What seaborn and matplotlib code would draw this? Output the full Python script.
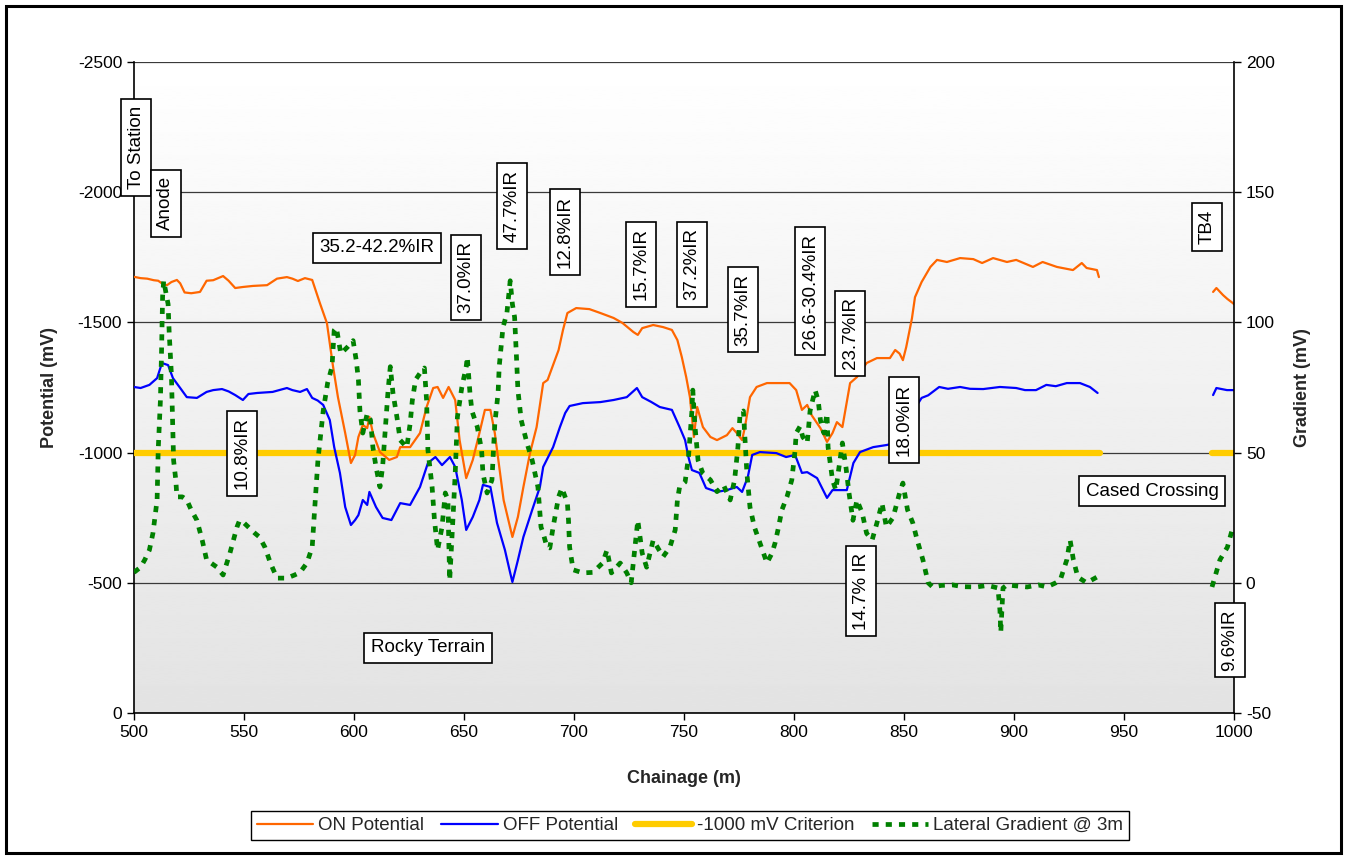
import numpy as np
import pandas as pd
import matplotlib
matplotlib.use("Agg")
import matplotlib.pyplot as plt
from matplotlib.patches import Rectangle
import seaborn as sns

sns.set_style("white")
plt.rcParams["font.family"] = ["Liberation Sans", "DejaVu Sans"]
plt.rcParams["axes.unicode_minus"] = False

# ---------------- survey data ----------------
# ON potential (mV), survey run 1 and the short run after the cased crossing
ON_CHAINAGE_1 = [500, 503, 506, 509, 511, 513, 515, 517, 519.5, 521, 523, 526, 530, 533, 536, 540.5, 543, 546,
                 549.5, 554, 560.5, 565, 569.5, 572, 574.5, 577.7, 581, 584.5, 587.7, 590.5, 592.7, 596, 598.6,
                 600.5, 602, 604, 606, 607, 608.6, 611.8, 616, 619.5, 621, 625.5, 630, 633, 636, 638, 640.5, 643,
                 646, 648, 651, 654, 657, 659.5, 662, 664, 666, 668, 672, 674.5, 677, 680, 683, 686, 688, 693, 695,
                 697, 701, 707, 712, 718, 722, 727, 729, 731, 736, 740.5, 744.5, 747, 749, 751, 752.7, 753.6, 754.5,
                 756, 758.6, 762, 765, 769.5, 772, 774, 776.4, 777.7, 780, 783, 787.7, 793.6, 798, 801, 803.6, 806,
                 808, 812, 815, 817.5, 819.5, 822, 825.5, 828.6, 833, 837.7, 843.6, 846, 848, 849.5, 851, 853.6, 855,
                 858, 862, 865, 869.5, 875.5, 881.5, 885.5, 890.5, 896.8, 901, 908.6, 913, 919.5, 926.8, 930.8, 933,
                 937.7, 938.6]
ON_POTENTIAL_1 = [-1675, -1670, -1668, -1662, -1660, -1648, -1643, -1655, -1663, -1650, -1615, -1612, -1617, -1660,
                  -1662, -1678, -1660, -1632, -1636, -1640, -1643, -1668, -1674, -1668, -1659, -1670, -1663, -1574,
                  -1497, -1329, -1213, -1075, -960, -991, -1060, -1106, -1094, -1137, -1075, -1002, -972, -983, -1021,
                  -1021, -1075, -1175, -1248, -1252, -1210, -1252, -1202, -1048, -902, -972, -1075, -1164, -1164,
                  -1075, -945, -818, -676, -753, -868, -998, -1098, -1267, -1279, -1394, -1471, -1536, -1555, -1551,
                  -1536, -1517, -1498, -1463, -1452, -1478, -1490, -1482, -1471, -1432, -1367, -1290, -1213, -1137,
                  -1060, -1175, -1098, -1060, -1048, -1067, -1094, -1075, -1048, -1098, -1213, -1252, -1267, -1267,
                  -1267, -1240, -1164, -1183, -1144, -1094, -1041, -1075, -1117, -1098, -1267, -1290, -1344, -1363,
                  -1363, -1394, -1380, -1355, -1405, -1515, -1597, -1655, -1713, -1740, -1732, -1747, -1743, -1728,
                  -1747, -1732, -1740, -1713, -1732, -1713, -1701, -1728, -1709, -1701, -1674]
ON_CHAINAGE_2 = [990.5, 992, 995, 997, 999.5, 1000]
ON_POTENTIAL_2 = [-1617, -1632, -1605, -1590, -1574, -1570]

# OFF potential (mV)
OFF_CHAINAGE_1 = [500, 503, 507, 510.5, 512.7, 515.5, 517.7, 521, 524, 528.6, 533, 536, 540, 543, 546, 549.5, 552,
                  556, 563, 566, 569.5, 572, 575.5, 578.6, 581, 583.5, 586, 589, 591, 593.6, 596, 598.6, 600.5, 602,
                  604, 606, 607, 610, 613, 617, 621, 625.5, 630, 633.6, 637, 640, 643.6, 646, 649, 651, 654, 657,
                  658.6, 662, 665, 668.6, 671, 672, 674.5, 677, 681, 684.5, 686, 690.5, 693.6, 696, 698, 704, 712,
                  718, 724, 728.6, 731, 735, 739, 744.5, 748, 750.5, 752, 753.6, 757, 760, 765, 769.5, 774, 776.4,
                  779, 781, 784.5, 792, 796.4, 800.5, 803.6, 806, 810.5, 815, 817.5, 821, 824, 827, 830, 836, 842,
                  848, 852, 855, 858, 861, 866, 870, 875.5, 880, 886, 893.6, 901, 905, 910, 914.7, 919, 924, 930,
                  934.5, 938]
OFF_POTENTIAL_1 = [-1252, -1248, -1260, -1286, -1344, -1336, -1286, -1248, -1213, -1210, -1233, -1240, -1244, -1235,
                   -1221, -1202, -1225, -1229, -1233, -1240, -1248, -1240, -1233, -1244, -1210, -1200, -1183, -1125,
                   -1021, -922, -791, -722, -741, -760, -818, -799, -849, -791, -749, -741, -806, -799, -868, -960,
                   -983, -952, -983, -945, -818, -703, -753, -818, -876, -868, -730, -626, -538, -503, -587, -676,
                   -780, -868, -945, -1021, -1098, -1152, -1179, -1190, -1194, -1202, -1213, -1248, -1213, -1195,
                   -1175, -1164, -1098, -1048, -983, -933, -922, -864, -849, -856, -868, -849, -906, -991, -1002,
                   -998, -983, -991, -922, -925, -902, -826, -856, -856, -856, -960, -1002, -1021, -1029, -1040,
                   -1100, -1170, -1210, -1220, -1252, -1245, -1252, -1245, -1244, -1252, -1248, -1240, -1240, -1260,
                   -1255, -1267, -1267, -1252, -1229]
OFF_CHAINAGE_2 = [990.5, 992, 996.8, 1000]
OFF_POTENTIAL_2 = [-1221, -1248, -1240, -1240]

# -1000 mV protection criterion
CRITERION_CHAINAGE_1 = [500, 939]
CRITERION_CHAINAGE_2 = [990, 1000]
CRITERION_MV = -1000

# Lateral gradient @ 3 m (mV)
GRAD_CHAINAGE_1 = [500, 503, 505, 507, 508.6, 510.5, 511, 512, 512.5, 513, 513.5, 515.5, 516, 517, 517.5, 518, 519,
                   519.5, 522, 524, 526, 528.6, 531, 533, 537.7, 540.5, 543.6, 546.8, 548, 550, 552, 555, 557, 559.5,
                   562, 565, 569.5, 573, 575.5, 578.6, 581, 582, 583.6, 586, 588, 590, 591, 592, 594, 597, 599.6, 601,
                   602, 602.7, 604, 606, 607.5, 608.6, 610, 611.8, 613, 615.5, 616.5, 617.7, 619.5, 621, 624, 625.5,
                   626.5, 628, 630, 632, 633, 633.6, 635.5, 636.5, 637.2, 638, 640, 641.5, 642.7, 643, 643.5, 645, 646,
                   647, 649, 651, 651.5, 652.7, 653.6, 656, 658, 658.6, 660.5, 662.7, 664, 665.5, 666, 667.7, 669.5,
                   671, 672, 673, 674, 674.5, 676, 678.6, 681, 683.6, 685, 686, 687.7, 689, 690.5, 693, 694.5, 697,
                   697.5, 698, 699.6, 704, 708.6, 713, 715, 717, 721, 724, 726, 727.7, 729, 731, 733, 736, 740.5,
                   743.6, 746, 747, 748, 750.5, 752, 753.6, 754, 755, 756.4, 758.6, 762, 765, 768, 771, 773, 774.5,
                   775.5, 777, 778.6, 780, 782, 784.5, 787.7, 790, 791.4, 792.7, 794.5, 796.8, 799, 800.5, 801, 802.7,
                   804, 806, 807.3, 809.6, 811, 812, 813.6, 815, 815.5, 817.5, 819, 820.5, 822, 823.6, 825, 826.8,
                   828.6, 831, 833, 835.5, 837.7, 840, 842, 845, 848, 849.5, 851.6, 854, 856, 858.6, 861, 863, 867,
                   872, 877, 883, 888, 892.7, 893.6, 894, 895, 896.8, 901, 906, 911, 915, 919, 921, 924, 925.5, 927,
                   929, 933, 937.7, 938.6]
GRAD_MV_1 = [4, 6, 9, 12.6, 19, 31.8, 51, 70, 88, 110, 116, 107, 96, 80, 63.7, 47, 39.5, 33, 33, 31.8, 28, 24, 16.4,
             8.8, 6, 3, 11.4, 21.4, 24, 23, 21.4, 19, 17.6, 13.7, 7.6, 1.8, 1.8, 3, 4, 7.6, 13.7, 26.8, 47, 66, 76.7,
             83, 97, 98, 88, 90.5, 93, 85.5, 78, 66, 57.5, 65, 62.5, 52, 44.5, 36.8, 44.5, 74, 83, 73, 63.7, 54.8, 52,
             61, 70, 78, 80.5, 82.5, 70, 51, 36.8, 25, 19, 12.6, 21.4, 34.5, 31.8, 19, 1, 25, 42, 63.7, 75, 83, 86.7,
             73, 66, 60, 51, 42, 34.5, 39.5, 61, 73, 83, 98, 103.6, 116, 107, 102, 84, 74, 62.5, 53.7, 47, 36.8, 21.4,
             19, 13.7, 13.4, 21.4, 33, 36.4, 30.6, 24, 13.7, 5, 3.8, 4, 7.6, 12.6, 3.8, 7.6, 3.8, 0, 13.7, 24, 11.4,
             6, 16.4, 10, 13.7, 20.3, 31.8, 36.8, 38.7, 48, 66, 74, 60, 47, 42, 39.5, 35, 37.5, 31.8, 39.5, 52, 65,
             66, 42, 29, 21.4, 15.3, 7.6, 11.4, 15.3, 20.3, 28, 33, 39.5, 51, 57.5, 60, 56, 53.7, 66, 74, 70, 62.5,
             57.5, 65, 52, 39.5, 35.6, 44.5, 53.7, 44.5, 34.5, 24, 31.8, 26.8, 19, 16.4, 23, 30.6, 21.4, 25, 34.5,
             38.3, 28, 23, 16.4, 8.8, 0, -1.6, -1.0, -0.8, -1.5, -1.6, -1.0, -2, -10.5, -19, -2, -0.8, -1.2, -1.6,
             -0.8, -1.6, 0, 1, 8.8, 16.4, 8.8, 2.2, 0, 2.2, 2]
GRAD_CHAINAGE_2 = [990, 993.6, 997, 999.5, 1000]
GRAD_MV_2 = [-1.6, 8.8, 13.7, 21.4, 22]

# Annotations: (text, chainage, potential, rotation)
NOTES = [
    ("To Station", 501.1, -2172, 90),
    ("Anode", 514.5, -1958, 90),
    ("35.2-42.2%IR", 610.5, -1786, 0),
    ("37.0%IR", 651.0, -1674, 90),
    ("47.7%IR", 671.8, -1947, 90),
    ("12.8%IR", 696.0, -1847, 90),
    ("15.7%IR", 730.5, -1724, 90),
    ("37.2%IR", 753.6, -1724, 90),
    ("35.7%IR", 776.8, -1548, 90),
    ("26.6-30.4%IR", 807.3, -1620, 90),
    ("23.7%IR", 825.5, -1459, 90),
    ("18.0%IR", 850.0, -1125, 90),
    ("10.8%IR", 549.0, -998, 90),
    ("14.7% IR", 830.5, -468, 90),
    ("9.6%IR", 998.0, -280, 90),
    ("TB4", 987.7, -1866, 90),
    ("Cased Crossing", 962.7, -852, 0),
    ("Rocky Terrain", 633.6, -250, 0),
]

SERIES_LABELS = ["ON Potential", "OFF Potential", "-1000 mV Criterion", "Lateral Gradient @ 3m"]
COLORS = {"on": "#FF6600", "off": "#0000FF", "crit": "#FFCC00", "grad": "#008000"}


def runs(*parts):
    """Stack (chainage, value) runs into one frame, one unit id per run."""
    frames = []
    for i, (x, y) in enumerate(parts):
        frames.append(pd.DataFrame({"chainage": x, "value": y, "run": i}))
    return pd.concat(frames, ignore_index=True)


on_df = runs((ON_CHAINAGE_1, ON_POTENTIAL_1), (ON_CHAINAGE_2, ON_POTENTIAL_2))
off_df = runs((OFF_CHAINAGE_1, OFF_POTENTIAL_1), (OFF_CHAINAGE_2, OFF_POTENTIAL_2))
crit_df = runs((CRITERION_CHAINAGE_1, [CRITERION_MV] * 2), (CRITERION_CHAINAGE_2, [CRITERION_MV] * 2))
grad_df = runs((GRAD_CHAINAGE_1, GRAD_MV_1), (GRAD_CHAINAGE_2, GRAD_MV_2))

# ---------------- figure ----------------
W, H = 1348, 859
fig = plt.figure(figsize=(W / 100, H / 100), dpi=100)
fig.patch.set_facecolor("white")
ax = fig.add_axes([134 / W, 1 - 713 / H, 1100 / W, 651 / H])

# grey fade of the plot area
grad_img = np.linspace(0.89, 1.0, 256).reshape(-1, 1)
ax.imshow(grad_img, cmap="gray", vmin=0, vmax=1, aspect="auto", extent=[0, 1, 0, 1],
          transform=ax.transAxes, origin="lower", zorder=-10, interpolation="bilinear")


def draw(df, axis, **kw):
    n0 = len(axis.lines)
    sns.lineplot(data=df, x="chainage", y="value", units="run", estimator=None,
                 ax=axis, legend=False, sort=False, **kw)
    return axis.lines[n0]


h_on = draw(on_df, ax, color=COLORS["on"], lw=1.6, zorder=3)
h_off = draw(off_df, ax, color=COLORS["off"], lw=1.6, zorder=3)
h_crit = draw(crit_df, ax, color=COLORS["crit"], lw=4.5, solid_capstyle="round", zorder=2.8)

ax.set_xlim(500, 1000)
ax.set_ylim(0, -2500)
ax.set_yticks(np.arange(0, -2501, -500))
ax.set_xticks(np.arange(500, 1001, 50))
ax.yaxis.grid(True, color="#3a3a3a", lw=0.9)
ax.xaxis.grid(False)
ax.set_axisbelow(True)
for s in ["top", "right"]:
    ax.spines[s].set_visible(False)
for s in ["left", "bottom"]:
    ax.spines[s].set_color("black")
    ax.spines[s].set_linewidth(1.2)
ax.tick_params(axis="both", direction="out", length=5, width=1, color="black",
               labelsize=12.5, labelcolor="black", left=True, bottom=True)
ax.set_xlabel("Chainage (m)", fontsize=13, fontweight="bold", labelpad=22)
ax.set_ylabel("Potential (mV)", fontsize=13, fontweight="bold", labelpad=14)

ax2 = ax.twinx()
h_grad = draw(grad_df, ax2, color=COLORS["grad"], lw=3.4, linestyle=(0, (1.3, 1.5)),
              solid_capstyle="butt", dash_capstyle="butt")
ax2.set_ylim(-50, 200)
ax2.set_yticks(np.arange(-50, 201, 50))
ax2.set_xlim(500, 1000)
for s in ["top", "left", "bottom"]:
    ax2.spines[s].set_visible(False)
ax2.spines["right"].set_color("black")
ax2.spines["right"].set_linewidth(1.2)
ax2.tick_params(axis="y", direction="out", length=5, width=1, color="black",
                labelsize=12.5, labelcolor="black", right=True)
ax2.set_ylabel("Gradient (mV)", fontsize=13, fontweight="bold", labelpad=14)

# callout boxes
for text, cx, cy, rot in NOTES:
    ax2.text(cx, cy, text, transform=ax.transData, rotation=rot, ha="center", va="center",
             fontsize=13.5, color="black", zorder=20, clip_on=False,
             bbox=dict(boxstyle="square,pad=0.35", fc="white", ec="black", lw=1.2))

leg = fig.legend([h_on, h_off, h_crit, h_grad], SERIES_LABELS, loc="center",
                 bbox_to_anchor=(690 / W, 1 - 825.5 / H), ncol=4, frameon=True, fancybox=False,
                 edgecolor="black", framealpha=1, fontsize=13.5, handlelength=3.0,
                 handletextpad=0.3, columnspacing=0.9, borderpad=0.3)
leg.get_frame().set_linewidth(1.0)

# outer chart border
fig.add_artist(Rectangle((6 / W, 6 / H), (1341 - 6) / W, (853 - 6) / H, transform=fig.transFigure,
                         fill=False, ec="black", lw=2.2))

fig.savefig("out.png", dpi=100)
